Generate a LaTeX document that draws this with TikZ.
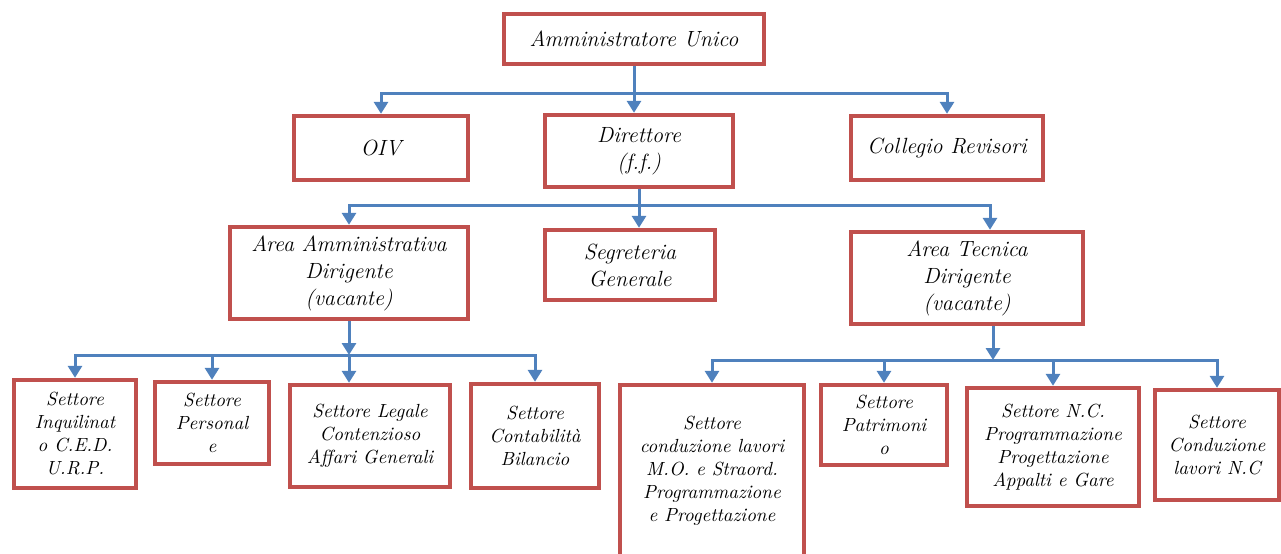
\documentclass[tikz,border=0pt]{standalone}
\usepackage{tikz}
\usetikzlibrary{arrows.meta}
\definecolor{boxred}{RGB}{192,80,77}
\definecolor{linkblue}{RGB}{79,129,189}
\tikzset{
  ufficio/.style={draw=boxred, line width=2.2pt, fill=white, align=center,
    inner sep=1pt, font=\itshape\fontsize{11}{13.5}\selectfont},
  settore/.style={ufficio, font=\itshape\fontsize{9.5}{11.5}\selectfont},
  link/.style={draw=linkblue, line width=1.5pt, -{Triangle[width=7pt,length=6pt]}}
}

\begin{document}
\begin{tikzpicture}[x=0.5pt,y=-0.5pt]
	\useasboundingbox (0,0) rectangle (1281,553);
	\node[ufficio, minimum width=130pt, minimum height=25pt] (au) at (634,39) {Amministratore Unico};
	\node[ufficio, minimum width=87pt, minimum height=32pt] (oiv) at (381,148) {OIV};
	\node[ufficio, minimum width=94pt, minimum height=36pt] (dir) at (639,151) {Direttore\\(f.f.)};
	\node[ufficio, minimum width=96pt, minimum height=32pt] (cr) at (947,148) {Collegio Revisori};
	\node[ufficio, minimum width=119pt, minimum height=46pt] (aa) at (349,273) {Area Amministrativa\\Dirigente\\(vacante)};
	\node[ufficio, minimum width=85pt, minimum height=35pt] (sg) at (630,265) {Segreteria\\Generale};
	\node[ufficio, minimum width=116pt, minimum height=46pt] (at) at (967,278) {Area Tecnica\\Dirigente\\(vacante)};
	\node[settore, minimum width=61pt, minimum height=54pt] (inq) at (75,434) {Settore\\Inquilinat\\o C.E.D.\\U.R.P.};
	\node[settore, minimum width=57pt, minimum height=41pt] (pers) at (212,423) {Settore\\Personal\\e};
	\node[settore, minimum width=80pt, minimum height=51pt] (leg) at (370,436) {Settore Legale\\Contenzioso\\Affari Generali};
	\node[settore, minimum width=64pt, minimum height=52pt] (cont) at (535,436) {Settore\\Contabilità\\Bilancio};
	\node[settore, minimum width=92pt, minimum height=86pt] (cond) at (712,471) {Settore\\conduzione lavori\\M.O. e Straord.\\Programmazione\\e Progettazione};
	\node[settore, minimum width=63pt, minimum height=40pt] (patr) at (884,425) {Settore\\Patrimoni\\o};
	\node[settore, minimum width=86pt, minimum height=59pt] (nc) at (1053,447) {Settore N.C.\\Programmazione\\Progettazione\\Appalti e Gare};
	\node[settore, minimum width=62pt, minimum height=55pt] (cnc) at (1217,445) {Settore\\Conduzione\\lavori N.C};

	\coordinate (j1) at (635,93);
	\coordinate (j2) at (637,205);
	\coordinate (j3) at (349,355);
	\coordinate (j4) at (993,360);

	\draw[link] (au) -- (au |- dir.north);
	\draw[link] (j1) -| (oiv);
	\draw[link] (j1) -| (cr);
	\draw[link] (dir) -- (dir |- sg.north);
	\draw[link] (j2) -| (aa);
	\draw[link] (j2) -| ([xshift=11.5pt]at.north);
	\draw[link] (aa) -- (j3);
	\draw[link] (j3) -- (j3 |- leg.north);
	\draw[link] (j3) -| (inq);
	\draw[link] (j3) -| (pers);
	\draw[link] (j3) -| (cont);
	\draw[link] ([xshift=13pt]at.south) -- (j4);
	\draw[link] (j4) -| (cond);
	\draw[link] (j4) -| (patr);
	\draw[link] (j4) -| (nc);
	\draw[link] (j4) -| (cnc);
\end{tikzpicture}
\end{document}
